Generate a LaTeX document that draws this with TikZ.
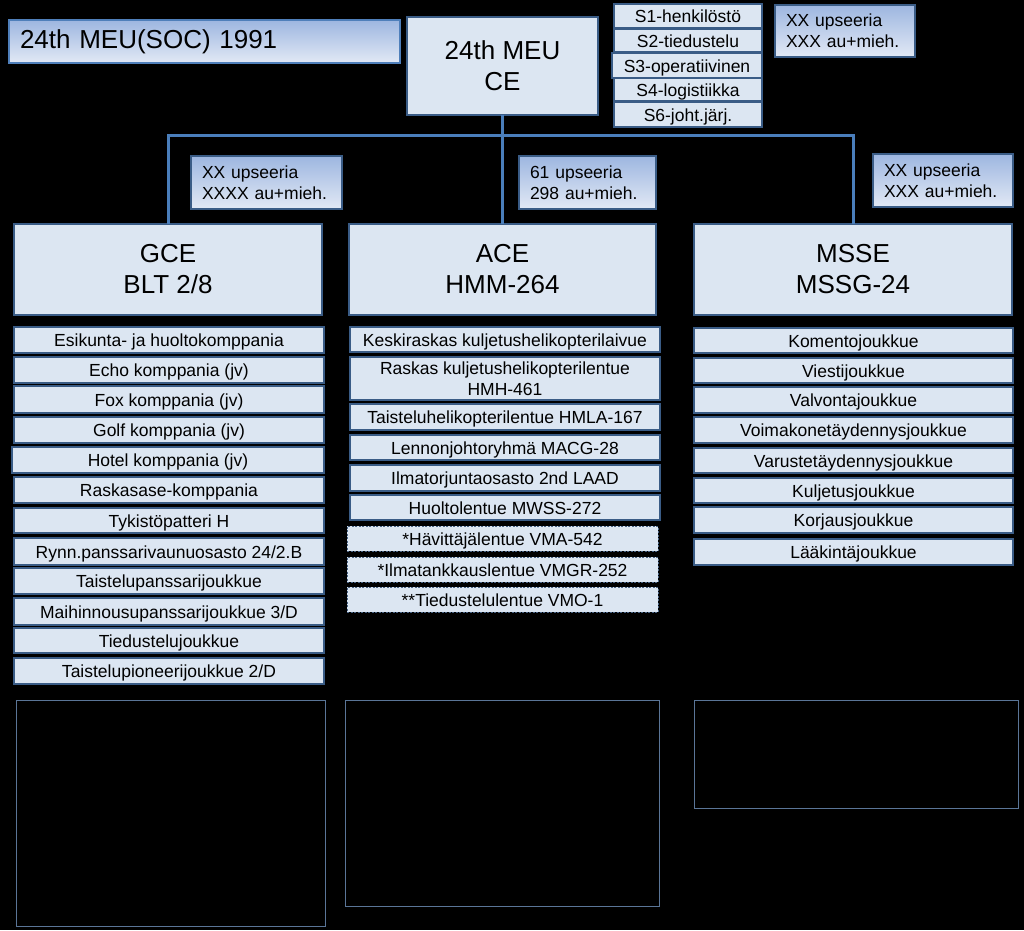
\documentclass[tikz,border=0pt]{standalone}
\usepackage{fontspec}
\setmainfont{Liberation Sans}
\definecolor{pale}{HTML}{DCE6F2}
\definecolor{gradtop}{HTML}{9DB6E0}
\definecolor{gradbot}{HTML}{E2E9F5}
\definecolor{bordr}{HTML}{3A5C86}
\definecolor{lightbordr}{HTML}{4F7FBA}
\definecolor{connc}{HTML}{4A7EBB}
\definecolor{emptyb}{HTML}{5A7597}
\newcommand\bx[7]{\node[#6, minimum width={(#4-#2)*1pt}, minimum height={(#5-#3)*1pt}] (#1) at ({(#2+#4)/2},{(#3+#5)/2}) {#7};}
\tikzset{
  base/.style={rectangle, inner sep=1pt, outer sep=0pt, text=black, align=center},
  big/.style={base, draw=bordr, line width=1.4pt, fill=pale, font=\fontsize{26}{31}\selectfont},
  unittwo/.style={base, draw=bordr, line width=1.5pt, fill=pale, font=\fontsize{17.5}{21}\selectfont},
  unit/.style={unittwo, text height=13.5pt, text depth=0pt},
  dunit/.style={base, draw=bordr!80!gray, line width=0.9pt, dash pattern=on 2pt off 1.5pt, fill=pale, font=\fontsize{17.5}{21}\selectfont, text height=13.5pt, text depth=0pt},
  grad/.style={base, draw=bordr, line width=1.4pt, top color=gradtop, bottom color=gradbot, align=left, inner xsep=11pt, font=\fontsize{17.5}{21}\selectfont},
  titlebox/.style={base, draw=lightbordr, line width=1.4pt, top color=gradtop, bottom color=gradbot, align=left, inner xsep=11pt, text width=369pt, font=\fontsize{26}{31}\selectfont},
  emptybox/.style={draw=emptyb, line width=1pt},
  conn/.style={draw=connc, line width=3pt}
}
\begin{document}
\begin{tikzpicture}[x=1pt,y=-1pt]
\fill[black] (0,0) rectangle (1024,930);
\useasboundingbox (0,0) rectangle (1024,930);
% title
\bx{title}{9}{20}{400}{63}{titlebox}{24th MEU(SOC) 1991}
% command element
\bx{ce}{407}{17}{598}{115}{big}{24th MEU\\CE}
\bx{s1}{614}{4}{762}{28}{unit}{S1-henkilöstö}
\bx{s2}{614}{29}{762}{52}{unit}{S2-tiedustelu}
\bx{s3}{612}{53}{762}{78}{unit}{S3-operatiivinen}
\bx{s4}{614}{78}{762}{101}{unit}{S4-logistiikka}
\bx{s6}{614}{102}{762}{127}{unit}{S6-joht.järj.}
\bx{ceq}{775}{5}{915}{57}{grad, text width=118pt}{XX upseeria\\XXX au+mieh.}
% element headers
\bx{gce}{14}{224}{322}{315}{big}{GCE\\BLT 2/8}
\bx{ace}{349}{224}{656}{315}{big}{ACE\\HMM-264}
\bx{msse}{694}{224}{1012}{315}{big}{MSSE\\MSSG-24}
\bx{gceq}{191}{156}{342}{209}{grad, text width=129pt}{XX upseeria\\XXXX au+mieh.}
\bx{aceq}{519}{156}{656}{209}{grad, text width=115pt}{61 upseeria\\298 au+mieh.}
\bx{mssq}{873}{154}{1013}{207}{grad, text width=118pt}{XX upseeria\\XXX au+mieh.}
% connectors
\coordinate (j) at (502.5,135);
\draw[conn] (ce.south) -- (j);
\draw[conn] (j) -- (ace.north);
\draw[conn] (gce.north) |- (j) -| (msse.north);
% GCE units
\bx{g1}{14}{327}{324}{353}{unit}{Esikunta- ja huoltokomppania}
\bx{g2}{14}{357}{324}{383}{unit}{Echo komppania (jv)}
\bx{g3}{14}{386}{324}{413}{unit}{Fox komppania (jv)}
\bx{g4}{14}{417}{324}{443}{unit}{Golf komppania (jv)}
\bx{g5}{12}{447}{324}{473}{unit}{Hotel komppania (jv)}
\bx{g6}{14}{477}{324}{503}{unit}{Raskasase-komppania}
\bx{g7}{14}{508}{324}{533}{unit}{Tykistöpatteri H}
\bx{g8}{14}{538}{324}{565}{unit}{Rynn.panssarivaunuosasto 24/2.B}
\bx{g9}{14}{568}{324}{594}{unit}{Taistelupanssarijoukkue}
\bx{g10}{14}{598}{324}{625}{unit}{Maihinnousupanssarijoukkue 3/D}
\bx{g11}{14}{628}{324}{653}{unit}{Tiedustelujoukkue}
\bx{g12}{14}{658}{324}{684}{unit}{Taistelupioneerijoukkue 2/D}
% ACE units
\bx{a1}{350}{327}{660}{352}{unit}{Keskiraskas kuljetushelikopterilaivue}
\bx{a2}{350}{357}{660}{400}{unittwo}{Raskas kuljetushelikopterilentue\\HMH-461}
\bx{a3}{350}{404}{660}{430}{unit}{Taisteluhelikopterilentue HMLA-167}
\bx{a4}{350}{435}{660}{460}{unit}{Lennonjohtoryhmä MACG-28}
\bx{a5}{350}{465}{660}{491}{unit}{Ilmatorjuntaosasto 2nd LAAD}
\bx{a6}{350}{495}{660}{520}{unit}{Huoltolentue MWSS-272}
\bx{a7}{347}{526}{658}{551}{dunit}{*Hävittäjälentue VMA-542}
\bx{a8}{347}{557}{658}{582}{dunit}{*Ilmatankkauslentue VMGR-252}
\bx{a9}{347}{587}{658}{612}{dunit}{**Tiedustelulentue VMO-1}
% MSSE units
\bx{m1}{694}{328}{1013}{353}{unit}{Komentojoukkue}
\bx{m2}{694}{358}{1013}{383}{unit}{Viestijoukkue}
\bx{m3}{694}{387}{1013}{413}{unit}{Valvontajoukkue}
\bx{m4}{694}{417}{1013}{443}{unit}{Voimakonetäydennysjoukkue}
\bx{m5}{694}{448}{1013}{473}{unit}{Varustetäydennysjoukkue}
\bx{m6}{694}{478}{1013}{503}{unit}{Kuljetusjoukkue}
\bx{m7}{694}{507}{1013}{533}{unit}{Korjausjoukkue}
\bx{m8}{694}{539}{1013}{565}{unit}{Lääkintäjoukkue}
% empty boxes
\draw[emptybox] (16,700) rectangle (325,926);
\draw[emptybox] (345,700) rectangle (659,906);
\draw[emptybox] (694,700) rectangle (1018,808);
\end{tikzpicture}
\end{document}
